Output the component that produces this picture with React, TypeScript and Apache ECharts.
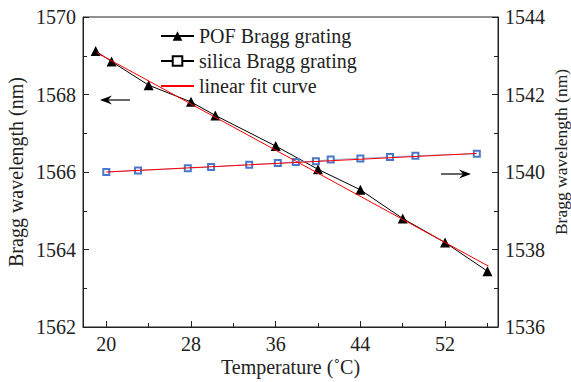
import React, { useEffect, useRef } from "react";
import * as echarts from "echarts";

const pofTemps = [19, 20.5, 24, 28, 30.3, 36, 40, 44, 48, 52, 56];
const pofWavelengths = [1569.12, 1568.85, 1568.24, 1567.81, 1567.46, 1566.67, 1566.07, 1565.54, 1564.8, 1564.18, 1563.44];
const silicaTemps = [20, 23, 27.7, 29.9, 33.5, 36.2, 37.9, 39.8, 41.2, 44, 46.8, 49.2, 55];
const silicaWavelengths = [1540.0, 1540.04, 1540.1, 1540.13, 1540.19, 1540.23, 1540.26, 1540.28, 1540.32, 1540.35, 1540.39, 1540.42, 1540.47];
const pofFitTemps = [19.1, 56.1];
const pofFitValues = [1569.08, 1563.57];
const silicaFitTemps = [20, 55];
const silicaFitValues = [1540.0, 1540.48];
const xMajorTicks = [20, 28, 36, 44, 52];
const xMinorTicks = [24, 32, 40, 48, 56];
const legendNames = ["POF Bragg grating", "silica Bragg grating", "linear fit curve"];

const FONT = "'Liberation Serif', 'Times New Roman', serif";

export default function App() {
  const ref = useRef<HTMLDivElement>(null);
  useEffect(() => {
    document.body.style.margin = "0";
    const chart = echarts.init(ref.current!, null, { renderer: "svg" });
    const zip = (xs: number[], ys: number[]) => xs.map((x, i) => [x, ys[i]]);
    const axisLine = { show: true, lineStyle: { color: "#222", width: 1 } };
    const labelStyle = { color: "#222", fontFamily: FONT, fontSize: 20, formatter: (v: number) => String(v) };
    chart.setOption({
      animation: false,
      backgroundColor: "#fff",
      textStyle: { fontFamily: FONT },
      grid: {
        left: 83, right: 73, top: 17, bottom: 55,
        outerBoundsMode: "none", containLabel: false,
        show: true, borderColor: "#222", borderWidth: 1, backgroundColor: "transparent",
      },
      legend: {
        orient: "vertical",
        left: 155,
        top: 21,
        itemWidth: 33,
        itemHeight: 12,
        itemGap: 5,
        itemTextGap: 7,
        textStyle: { fontFamily: FONT, fontSize: 20, color: "#222", lineHeight: 20 },
        data: [
          { name: legendNames[0], itemStyle: { color: "#000", borderColor: "#000" }, lineStyle: { color: "#000" } },
          { name: legendNames[1], itemStyle: { color: "#000", borderColor: "#000", borderWidth: 1 }, lineStyle: { color: "#000" } },
          { name: legendNames[2], itemStyle: { opacity: 0 }, lineStyle: { color: "#ff0000" } },
        ],
      },
      xAxis: [
        {
          type: "value",
          min: 17.8,
          max: 57,
          position: "bottom",
          axisLine,
          splitLine: { show: false },
          axisTick: { show: true, inside: true, length: 6, customValues: xMajorTicks, lineStyle: { color: "#222" } },
          axisLabel: { ...labelStyle, margin: 7, customValues: xMajorTicks },
          name: "Temperature (˚C)",
          nameLocation: "middle",
          nameGap: 30,
          nameMoveOverlap: false,
          nameTextStyle: { fontFamily: FONT, fontSize: 20, color: "#222" },
        },
        {
          type: "value",
          min: 17.8,
          max: 57,
          position: "bottom",
          axisLine: { show: false },
          splitLine: { show: false },
          axisTick: { show: true, inside: true, length: 4, customValues: xMinorTicks, lineStyle: { color: "#222" } },
          axisLabel: { show: false },
        },
      ],
      yAxis: [
        {
          type: "value",
          min: 1562,
          max: 1570,
          interval: 2,
          position: "left",
          axisLine,
          splitLine: { show: false },
          axisTick: { show: true, inside: true, length: 6, lineStyle: { color: "#222" } },
          minorTick: { show: true, splitNumber: 2, length: 4, lineStyle: { color: "#222" } },
          axisLabel: { ...labelStyle, margin: 7 },
          name: "Bragg wavelength (nm)",
          nameLocation: "middle",
          nameRotate: 90,
          nameGap: 57,
          nameMoveOverlap: false,
          nameTextStyle: { fontFamily: FONT, fontSize: 20, color: "#222" },
        },
        {
          type: "value",
          min: 1536,
          max: 1544,
          interval: 2,
          position: "right",
          axisLine,
          splitLine: { show: false },
          axisTick: { show: true, inside: true, length: 6, lineStyle: { color: "#222" } },
          minorTick: { show: true, splitNumber: 2, length: 4, lineStyle: { color: "#222" } },
          axisLabel: { ...labelStyle, margin: 7 },
          name: "Bragg wavelength (nm)",
          nameLocation: "middle",
          nameRotate: 90,
          nameGap: 54,
          nameMoveOverlap: false,
          nameTextStyle: { fontFamily: FONT, fontSize: 17.5, color: "#222", padding: [0, 0, 0, 40] },
        },
      ],
      series: [
        {
          name: legendNames[0],
          type: "line",
          xAxisIndex: 0,
          yAxisIndex: 0,
          data: zip(pofTemps, pofWavelengths),
          symbol: "triangle",
          symbolSize: 10,
          itemStyle: { color: "#000" },
          lineStyle: { color: "#000", width: 1 },
          z: 3,
        },
        {
          name: legendNames[1],
          type: "line",
          xAxisIndex: 0,
          yAxisIndex: 1,
          data: zip(silicaTemps, silicaWavelengths),
          symbol: "emptyRect",
          symbolSize: 6,
          itemStyle: { color: "#4a78c8", borderColor: "#4a78c8", borderWidth: 1 },
          lineStyle: { color: "#8fb0e0", width: 1 },
          z: 3,
        },
        {
          name: legendNames[2],
          type: "line",
          xAxisIndex: 0,
          yAxisIndex: 0,
          data: zip(pofFitTemps, pofFitValues),
          symbol: "none",
          itemStyle: { color: "#ff0000" },
          lineStyle: { color: "#ff0000", width: 1 },
          z: 4,
        },
        {
          name: legendNames[2],
          type: "line",
          xAxisIndex: 0,
          yAxisIndex: 1,
          data: zip(silicaFitTemps, silicaFitValues),
          symbol: "none",
          itemStyle: { color: "#ff0000" },
          lineStyle: { color: "#ff0000", width: 1 },
          z: 4,
        },
      ],
      graphic: [
        { type: "line", shape: { x1: 106, y1: 100, x2: 130, y2: 100 }, style: { stroke: "#000", lineWidth: 1.2 } },
        { type: "polygon", shape: { points: [[100, 100], [112, 95.5], [108, 100], [112, 104.5]] }, style: { fill: "#000" } },
        { type: "line", shape: { x1: 441, y1: 174, x2: 465, y2: 174 }, style: { stroke: "#000", lineWidth: 1.2 } },
        { type: "polygon", shape: { points: [[471, 174], [459, 169.5], [463, 174], [459, 178.5]] }, style: { fill: "#000" } },
      ],
    });
    return () => chart.dispose();
  }, []);
  return <div ref={ref} style={{ width: 571, height: 382 }} />;
}
